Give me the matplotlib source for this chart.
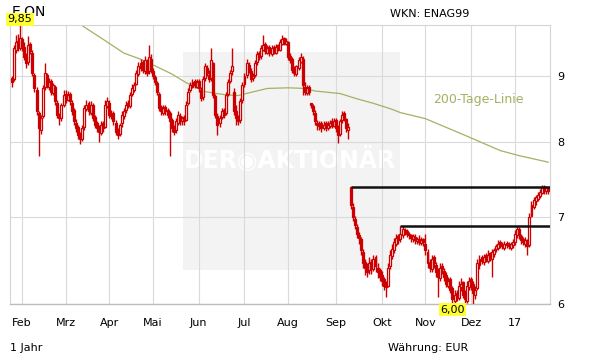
import numpy as np
import pandas as pd
import matplotlib
matplotlib.use("Agg")
import matplotlib.pyplot as plt
from matplotlib.ticker import FixedLocator, NullLocator, FuncFormatter
from matplotlib.patches import Rectangle

# ---------------- data ----------------
holidays = ["2016-03-25", "2016-03-28", "2016-12-26"]
days = pd.bdate_range("2016-01-25", "2017-01-24")
days = days[~days.isin(pd.to_datetime(holidays))]

close = [
    8.90, 9.45, 9.55, 9.48, 9.62,
    9.45, 9.30, 9.20, 9.50, 9.40, 9.05, 8.80, 8.45, 8.20, 8.35, 8.80, 9.05, 8.85, 8.90, 8.75, 8.85, 8.60, 8.40, 8.35, 8.55, 8.70,
    8.65, 8.70, 8.60, 8.45, 8.30, 8.20, 8.10, 8.05, 8.20, 8.50, 8.55, 8.45, 8.55, 8.35, 8.25, 8.20, 8.15, 8.25, 8.20, 8.55, 8.60,
    8.40, 8.40, 8.30, 8.15, 8.10, 8.25, 8.40, 8.45, 8.55, 8.55, 8.70, 8.80, 8.85, 9.05, 9.15, 9.20, 9.10, 9.25, 9.05, 9.30, 9.10,
    9.00, 8.90, 8.75, 8.50, 8.45, 8.50, 8.45, 8.40, 8.30, 8.20, 8.15, 8.30, 8.40, 8.30, 8.35, 8.30, 8.55, 8.75, 8.85, 8.90, 8.85, 8.90,
    8.80, 8.65, 8.95, 9.15, 9.05, 8.95, 9.25, 8.70, 8.40, 8.25, 8.35, 8.45, 8.40, 8.70, 8.90, 9.05, 9.15, 8.45, 8.35, 8.30, 8.60, 8.85,
    9.00, 9.20, 9.10, 8.95, 9.00, 9.20, 9.35, 9.30, 9.45, 9.50, 9.40, 9.45, 9.38, 9.45, 9.40, 9.48, 9.45, 9.55, 9.60, 9.55, 9.58,
    9.30, 9.25, 9.10, 9.05, 9.15, 9.25, 9.30, 8.85, 8.75, 8.80, 8.75, 8.55, 8.45, 8.30, 8.25, 8.25, 8.20, 8.25, 8.22, 8.25, 8.28, 8.25, 8.30,
    8.20, 8.10, 8.30, 8.40, 8.35, 8.20, 8.22, 7.15, 7.00, 6.90, 6.80, 6.75, 6.60, 6.45, 6.40, 6.35, 6.45, 6.40, 6.50, 6.42, 6.35, 6.30,
    6.25, 6.20, 6.18, 6.40, 6.55, 6.62, 6.70, 6.75, 6.72, 6.80, 6.85, 6.82, 6.80, 6.78, 6.75, 6.77, 6.72, 6.73, 6.70, 6.72, 6.70,
    6.60, 6.45, 6.40, 6.50, 6.45, 6.35, 6.30, 6.40, 6.38, 6.30, 6.22, 6.25, 6.15, 6.05, 6.10, 6.08, 6.20, 6.22, 6.10, 6.05, 6.20, 6.25,
    6.20, 6.12, 6.15, 6.45, 6.50, 6.48, 6.52, 6.50, 6.55, 6.52, 6.58, 6.60, 6.65, 6.68, 6.67, 6.65, 6.68, 6.66, 6.65, 6.68, 6.70,
    6.80, 6.85, 6.78, 6.72, 6.70, 6.72, 6.65, 7.00, 7.15, 7.22, 7.25, 7.28, 7.32, 7.38, 7.35, 7.38, 7.33,
]
open_ = [
    8.97, 8.95, 9.42, 9.58, 9.45,
    9.60, 9.48, 9.32, 9.22, 9.52, 9.38, 9.02, 8.78, 8.42, 8.18, 8.38, 8.82, 9.02, 8.83, 8.92, 8.73, 8.83, 8.58, 8.38, 8.35, 8.55,
    8.72, 8.62, 8.72, 8.58, 8.47, 8.28, 8.22, 8.12, 8.05, 8.22, 8.48, 8.57, 8.43, 8.55, 8.37, 8.27, 8.22, 8.13, 8.27, 8.22, 8.53,
    8.58, 8.38, 8.42, 8.28, 8.17, 8.12, 8.27, 8.38, 8.47, 8.57, 8.53, 8.72, 8.78, 8.87, 9.03, 9.13, 9.22, 9.08, 9.23, 9.07, 9.28,
    9.08, 8.98, 8.88, 8.72, 8.52, 8.43, 8.52, 8.47, 8.42, 8.32, 8.22, 8.17, 8.28, 8.38, 8.30, 8.37, 8.32, 8.57, 8.77, 8.83, 8.92, 8.83,
    8.92, 8.78, 8.67, 8.97, 9.13, 9.02, 8.97, 9.20, 8.68, 8.38, 8.27, 8.37, 8.47, 8.42, 8.72, 8.92, 9.07, 8.75, 8.45, 8.33, 8.32, 8.62,
    8.87, 9.02, 9.18, 9.08, 8.97, 9.02, 9.22, 9.37, 9.32, 9.43, 9.52, 9.38, 9.47, 9.36, 9.47, 9.38, 9.50, 9.43, 9.53, 9.62, 9.53,
    9.56, 9.32, 9.27, 9.12, 9.03, 9.13, 9.23, 9.28, 8.83, 8.73, 8.82, 8.57, 8.53, 8.43, 8.28, 8.23, 8.27, 8.20, 8.27, 8.20, 8.23, 8.30, 8.23,
    8.32, 8.22, 8.12, 8.32, 8.42, 8.33, 8.18, 7.38, 7.13, 6.98, 6.88, 6.78, 6.73, 6.58, 6.47, 6.42, 6.37, 6.47, 6.38, 6.52, 6.40, 6.37,
    6.32, 6.27, 6.22, 6.20, 6.42, 6.53, 6.60, 6.68, 6.77, 6.73, 6.78, 6.84, 6.83, 6.79, 6.78, 6.74, 6.76, 6.71, 6.74, 6.69, 6.73,
    6.68, 6.58, 6.47, 6.38, 6.52, 6.43, 6.37, 6.28, 6.42, 6.36, 6.32, 6.20, 6.27, 6.17, 6.03, 6.12, 6.06, 6.18, 6.24, 6.12, 6.03, 6.18,
    6.27, 6.22, 6.10, 6.17, 6.43, 6.52, 6.46, 6.54, 6.48, 6.57, 6.50, 6.56, 6.62, 6.63, 6.70, 6.66, 6.63, 6.69, 6.67, 6.63, 6.66,
    6.70, 6.78, 6.86, 6.77, 6.73, 6.68, 6.72, 6.66, 7.02, 7.13, 7.20, 7.23, 7.27, 7.31, 7.39, 7.33, 7.37,
]
high = [
    9.00, 9.50, 9.68, 9.70, 9.85,
    9.65, 9.55, 9.38, 9.66, 9.55, 9.42, 9.05, 8.82, 8.45, 8.40, 8.85, 9.20, 9.05, 8.97, 8.95, 8.88, 8.86, 8.62, 8.42, 8.58, 8.78,
    8.78, 8.76, 8.75, 8.62, 8.50, 8.33, 8.25, 8.15, 8.25, 8.55, 8.62, 8.60, 8.60, 8.58, 8.40, 8.30, 8.25, 8.30, 8.30, 8.62, 8.67,
    8.62, 8.47, 8.45, 8.32, 8.20, 8.28, 8.45, 8.50, 8.60, 8.62, 8.75, 8.87, 8.90, 9.10, 9.22, 9.28, 9.25, 9.32, 9.28, 9.50, 9.35,
    9.13, 9.02, 8.92, 8.75, 8.55, 8.55, 8.55, 8.50, 8.45, 8.35, 8.25, 8.35, 8.45, 8.42, 8.38, 8.40, 8.60, 8.80, 8.90, 8.95, 8.95, 8.95,
    8.95, 8.82, 9.00, 9.20, 9.18, 9.10, 9.45, 9.22, 8.72, 8.42, 8.40, 8.50, 8.50, 8.75, 8.95, 9.10, 9.45, 8.80, 8.55, 8.40, 8.65, 8.90,
    9.05, 9.27, 9.22, 9.12, 9.05, 9.25, 9.40, 9.40, 9.50, 9.68, 9.55, 9.50, 9.50, 9.50, 9.50, 9.52, 9.53, 9.60, 9.68, 9.65, 9.62,
    9.58, 9.37, 9.30, 9.15, 9.18, 9.30, 9.37, 9.32, 8.90, 8.85, 8.85, 8.58, 8.56, 8.47, 8.32, 8.30, 8.30, 8.30, 8.30, 8.30, 8.32, 8.35, 8.35,
    8.35, 8.25, 8.33, 8.45, 8.45, 8.35, 8.27, 7.38, 7.18, 7.02, 6.92, 6.82, 6.76, 6.62, 6.50, 6.45, 6.52, 6.50, 6.55, 6.55, 6.45, 6.40,
    6.36, 6.30, 6.25, 6.45, 6.60, 6.67, 6.75, 6.79, 6.80, 6.89, 6.89, 6.87, 6.86, 6.82, 6.80, 6.80, 6.80, 6.76, 6.78, 6.76, 6.75,
    6.80, 6.62, 6.50, 6.55, 6.55, 6.46, 6.40, 6.45, 6.45, 6.40, 6.35, 6.30, 6.30, 6.20, 6.15, 6.15, 6.25, 6.28, 6.25, 6.15, 6.25, 6.30,
    6.30, 6.25, 6.20, 6.50, 6.55, 6.55, 6.56, 6.57, 6.60, 6.58, 6.62, 6.63, 6.68, 6.72, 6.72, 6.70, 6.71, 6.71, 6.70, 6.70, 6.74,
    6.84, 6.89, 6.88, 6.80, 6.76, 6.76, 6.74, 7.05, 7.20, 7.26, 7.28, 7.32, 7.36, 7.41, 7.41, 7.40, 7.39,
]
low = [
    8.82, 8.92, 9.38, 9.40, 9.42,
    9.40, 9.25, 9.12, 9.18, 9.35, 9.00, 8.75, 8.40, 7.80, 8.12, 8.35, 8.78, 8.80, 8.78, 8.70, 8.70, 8.55, 8.35, 8.25, 8.30, 8.52,
    8.58, 8.60, 8.55, 8.40, 8.25, 8.15, 8.05, 7.97, 8.02, 8.18, 8.45, 8.40, 8.40, 8.30, 8.20, 8.15, 8.00, 8.10, 8.15, 8.20, 8.50,
    8.35, 8.33, 8.25, 8.10, 8.05, 8.08, 8.22, 8.33, 8.42, 8.50, 8.50, 8.68, 8.75, 8.85, 9.00, 9.08, 9.05, 9.03, 9.00, 9.03, 9.05,
    8.95, 8.85, 8.70, 8.45, 8.40, 8.40, 8.40, 8.35, 7.80, 8.15, 8.10, 8.13, 8.25, 8.25, 8.25, 8.25, 8.30, 8.55, 8.75, 8.80, 8.80, 8.80,
    8.75, 8.60, 8.62, 8.92, 9.00, 8.90, 8.92, 8.65, 8.35, 8.10, 8.22, 8.33, 8.35, 8.40, 8.68, 8.88, 9.02, 8.40, 8.25, 8.25, 8.28, 8.58,
    8.82, 8.97, 9.05, 8.90, 8.92, 8.98, 9.18, 9.25, 9.28, 9.40, 9.35, 9.35, 9.32, 9.33, 9.35, 9.35, 9.40, 9.40, 9.50, 9.50, 9.50,
    9.25, 9.20, 9.05, 9.00, 9.00, 9.10, 9.20, 8.70, 8.70, 8.70, 8.70, 8.50, 8.40, 8.25, 8.18, 8.18, 8.15, 8.17, 8.16, 8.18, 8.20, 8.20, 8.22,
    8.15, 7.98, 8.08, 8.28, 8.30, 8.15, 8.05, 7.10, 6.95, 6.85, 6.75, 6.68, 6.55, 6.40, 6.32, 6.30, 6.33, 6.33, 6.36, 6.35, 6.28, 6.25,
    6.20, 6.15, 6.08, 6.18, 6.38, 6.50, 6.57, 6.65, 6.68, 6.70, 6.75, 6.78, 6.76, 6.74, 6.70, 6.70, 6.68, 6.68, 6.66, 6.66, 6.65,
    6.55, 6.40, 6.35, 6.35, 6.40, 6.30, 6.07, 6.25, 6.33, 6.25, 6.18, 6.17, 6.12, 6.00, 6.01, 6.03, 6.04, 6.14, 6.06, 6.01, 6.01, 6.15,
    6.15, 6.00, 6.05, 6.15, 6.38, 6.44, 6.43, 6.46, 6.45, 6.48, 6.29, 6.52, 6.58, 6.60, 6.63, 6.62, 6.60, 6.63, 6.62, 6.60, 6.63,
    6.66, 6.75, 6.74, 6.68, 6.66, 6.64, 6.55, 6.64, 7.00, 7.10, 7.16, 7.20, 7.24, 7.30, 7.30, 7.30, 7.30,
]

# 200-day line (read at selected trading days)
sma_dates = ["2016-03-10", "2016-03-30", "2016-04-12", "2016-04-22", "2016-05-03",
             "2016-05-13", "2016-05-24", "2016-06-06", "2016-06-20", "2016-06-28",
             "2016-07-05", "2016-07-18", "2016-08-01", "2016-08-11", "2016-08-18",
             "2016-09-05", "2016-09-15", "2016-09-27", "2016-10-07", "2016-10-14",
             "2016-11-01", "2016-11-25", "2016-12-21", "2017-01-04", "2017-01-24"]
sma_vals = [9.86, 9.58, 9.37, 9.27, 9.16, 9.03, 8.89, 8.75, 8.70, 8.69,
            8.73, 8.80, 8.81, 8.80, 8.76, 8.72, 8.64, 8.57, 8.49, 8.43,
            8.34, 8.11, 7.88, 7.81, 7.72]

# horizontal resistance lines
level_vals = [7.38, 6.89]
level_from = ["2016-09-12", "2016-10-14"]

month_labels = ["Feb", "Mrz", "Apr", "Mai", "Jun", "Jul", "Aug", "Sep", "Okt", "Nov", "Dez", "17"]
y_ticks = [6, 7, 8, 9]

# ---------------- figure ----------------
assert len(close) == len(open_) == len(high) == len(low) == len(days)

W, H = 611, 364
fig = plt.figure(figsize=(W / 100, H / 100), dpi=100)
L, R, T, B = 10, 550, 25, 304
ax = fig.add_axes([L / W, 1 - B / H, (R - L) / W, (B - T) / H])

red = "#cc0000"
x = np.arange(len(close))
o = np.array(open_); c = np.array(close); h = np.array(high); lo = np.array(low)

ax.set_yscale("log")
ax.set_ylim(lo.min(), h.max())
ax.set_xlim(-0.75, len(close) - 0.1)

# watermark box
ax.add_patch(Rectangle((0.3204, 0.1219), 0.7222 - 0.3204, 0.9032 - 0.1219,
                       transform=ax.transAxes, facecolor="#f3f3f3", edgecolor="none", zorder=0))
ax.text(0.5185, 0.516, "DER\u25C9AKTIONÄR", transform=ax.transAxes, ha="center", va="center",
        fontsize=17, fontweight="bold", color="white", zorder=0.5)

# grid
month_pos = []
for m in pd.date_range("2016-02-01", "2017-01-01", freq="MS"):
    month_pos.append(int(np.searchsorted(days, m)))
ax.xaxis.set_major_locator(FixedLocator(month_pos))
ax.set_xticklabels(month_labels)
ax.yaxis.set_major_locator(FixedLocator(y_ticks))
ax.yaxis.set_minor_locator(NullLocator())
ax.yaxis.set_major_formatter(FuncFormatter(lambda v, p: f"{v:g}"))
ax.yaxis.tick_right()
ax.grid(True, color="#dadada", lw=0.8, zorder=1)
ax.set_axisbelow(True)
ax.tick_params(axis="both", length=0, labelsize=8, colors="black")
ax.tick_params(axis="x", pad=10)
ax.tick_params(axis="y", pad=5)
for s in ax.spines.values():
    s.set_color("#d4d4d4"); s.set_linewidth(0.8)
ax.spines["bottom"].set_color("#bdbdbd"); ax.spines["bottom"].set_linewidth(1.0)

# 200-day line
sma_x = [int(days.get_loc(pd.Timestamp(d))) for d in sma_dates]
ax.plot(sma_x, sma_vals, color="#a3b163", lw=0.9, zorder=2)
ax.text((478 - L) / (R - L), (B - 100) / (B - T), "200-Tage-Linie", transform=ax.transAxes,
        ha="center", va="center", fontsize=9, color="#a3b163")

# candles
ax.vlines(x, lo, h, color=red, lw=1.0, zorder=3)
up = c >= o
ax.bar(x[up], (c - o)[up], bottom=o[up], width=0.95, facecolor="white", edgecolor=red, lw=0.9, zorder=4)
ax.bar(x[~up], (c - o)[~up], bottom=o[~up], width=0.95, facecolor=red, edgecolor=red, lw=0.9, zorder=4)

# resistance lines
for v, d in zip(level_vals, level_from):
    xs = int(days.get_loc(pd.Timestamp(d)))
    ax.plot([xs, len(close) - 0.1], [v, v], color="#111111", lw=1.8, zorder=5, solid_capstyle="butt")

# max / min labels
imax = int(np.argmax(h)); imin = int(np.argmin(lo))
ax.annotate(f"{h[imax]:.2f}".replace(".", ","), (imax, h[imax]), xytext=(0, 0.5), textcoords="offset points",
            ha="center", va="bottom", fontsize=8, annotation_clip=False, zorder=10,
            bbox=dict(boxstyle="square,pad=0.12", fc="#ffff33", ec="none"))
ax.annotate(f"{lo[imin]:.2f}".replace(".", ","), (imin, lo[imin]), xytext=(0, -0.5), textcoords="offset points",
            ha="center", va="top", fontsize=8, annotation_clip=False, zorder=10,
            bbox=dict(boxstyle="square,pad=0.12", fc="#ffff33", ec="none"))

# header / footer texts
ax.text(12 / W, 1 - 12 / H, "E.ON", transform=fig.transFigure, ha="left", va="center",
        fontsize=10, zorder=6, clip_on=False)
fig.text(390 / W, 1 - 14 / H, "WKN: ENAG99", ha="left", va="center", fontsize=8)
fig.text(10 / W, 1 - 348 / H, "1 Jahr", ha="left", va="center", fontsize=8)
fig.text(388 / W, 1 - 348 / H, "Währung: EUR", ha="left", va="center", fontsize=8)

fig.savefig("out.png", dpi=100)
